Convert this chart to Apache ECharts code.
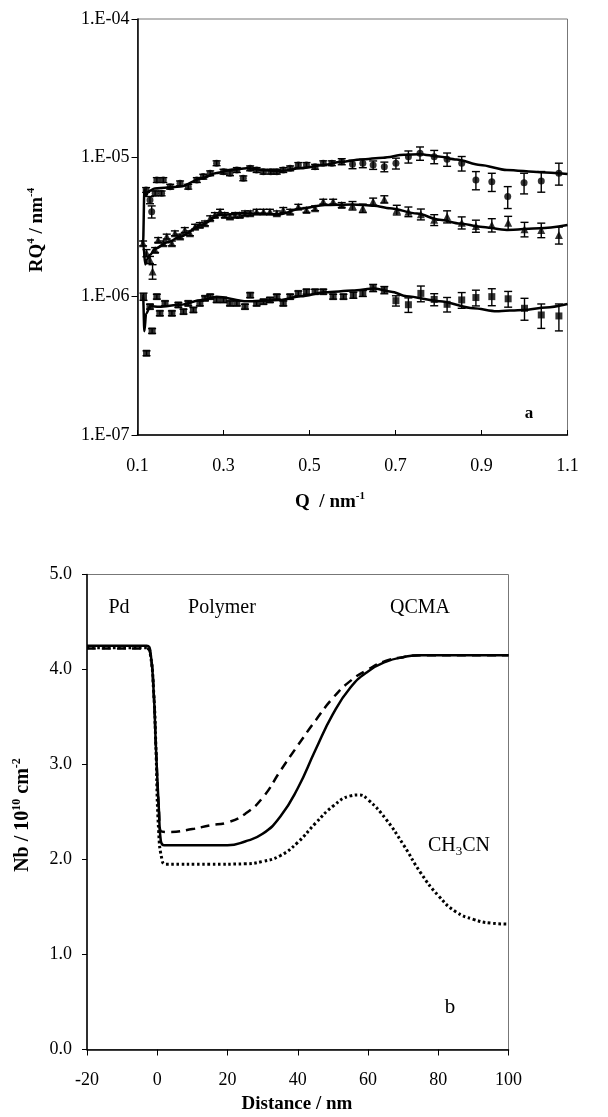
<!DOCTYPE html>
<html>
<head>
<meta charset="utf-8">
<script src="https://cdn.jsdelivr.net/npm/echarts@6/dist/echarts.min.js"></script>
<style>
html,body{margin:0;padding:0;background:#fff;}
#c{width:608px;height:1117px;}
</style>
</head>
<body>
<div id="c"></div>
<script>
// ---------- Panel a : RQ^4 vs Q (values in units of 1e-6) ----------
const circleQ = [0.12,0.129,0.133,0.141,0.145,0.156,0.16,0.176,0.199,0.218,0.238,0.253,0.269,0.284,0.3,0.315,0.331,0.346,0.362,0.377,0.393,0.41,0.424,0.439,0.455,0.474,0.493,0.513,0.532,0.552,0.575,0.60,0.624,0.648,0.674,0.701,0.73,0.757,0.79,0.82,0.854,0.887,0.924,0.961,0.999,1.039,1.08];
const circleV = [5.85,4.95,4.08,5.53,6.9,5.53,6.9,6.18,6.53,6.18,6.9,7.3,7.72,9.12,7.93,7.72,8.15,7.1,8.38,8.15,7.93,7.93,7.93,8.15,8.38,8.86,8.86,8.6,9.12,9.12,9.36,8.95,9.1,8.85,8.6,9.1,10.16,10.76,10.16,9.73,9.1,6.9,6.71,5.24,6.6,6.79,7.73];
const circleErr = [0.04,0.06,0.1,0.04,0.04,0.04,0.04,0.04,0.04,0.04,0.04,0.04,0.04,0.04,0.04,0.04,0.04,0.04,0.04,0.04,0.04,0.04,0.04,0.04,0.04,0.04,0.04,0.04,0.04,0.04,0.05,0.07,0.07,0.07,0.08,0.09,0.1,0.11,0.11,0.11,0.12,0.15,0.15,0.18,0.17,0.17,0.18];

const triQ = [0.113,0.121,0.129,0.135,0.141,0.148,0.16,0.168,0.18,0.187,0.199,0.21,0.222,0.234,0.245,0.257,0.269,0.28,0.292,0.303,0.315,0.327,0.338,0.35,0.362,0.377,0.393,0.408,0.424,0.439,0.455,0.474,0.493,0.513,0.532,0.555,0.575,0.60,0.624,0.648,0.674,0.703,0.73,0.759,0.79,0.82,0.854,0.887,0.924,0.962,1.0,1.039,1.08];
const triV = [2.41,2.05,1.83,1.51,2.16,2.55,2.41,2.7,2.41,2.85,2.7,3.01,2.85,3.18,3.27,3.36,3.66,3.86,4.08,3.86,3.76,3.86,3.86,3.97,3.97,4.08,4.08,4.08,3.97,4.2,4.08,4.43,4.2,4.32,4.82,4.82,4.56,4.51,4.32,4.82,5.01,4.2,4.08,3.91,3.56,3.76,3.4,3.22,3.27,3.4,3.05,3.01,2.77];
const triErr = [0.04,0.06,0.06,0.12,0.04,0.04,0.04,0.04,0.04,0.04,0.04,0.04,0.04,0.04,0.04,0.04,0.04,0.04,0.04,0.04,0.04,0.04,0.04,0.04,0.04,0.04,0.04,0.04,0.04,0.04,0.04,0.04,0.04,0.04,0.04,0.04,0.04,0.07,0.07,0.06,0.06,0.08,0.08,0.09,0.09,0.1,0.1,0.1,0.11,0.11,0.12,0.12,0.14];

const sqQ = [0.114,0.121,0.129,0.134,0.145,0.152,0.164,0.18,0.195,0.207,0.218,0.23,0.245,0.257,0.269,0.284,0.3,0.315,0.331,0.35,0.362,0.377,0.393,0.408,0.424,0.439,0.455,0.474,0.493,0.513,0.532,0.555,0.579,0.602,0.624,0.648,0.674,0.701,0.73,0.759,0.79,0.82,0.854,0.887,0.924,0.962,1.0,1.039,1.08];
const sqV = [0.995,0.389,0.843,0.563,0.995,0.755,0.89,0.755,0.867,0.776,0.89,0.798,0.89,0.968,0.995,0.942,0.942,0.89,0.89,0.843,1.02,0.89,0.915,0.942,0.995,0.89,0.995,1.05,1.08,1.08,1.08,0.995,0.995,1.02,1.05,1.15,1.11,0.93,0.87,1.05,0.95,0.876,0.942,0.98,0.995,0.96,0.82,0.734,0.722];
const sqErr = [0.06,0.04,0.04,0.04,0.04,0.04,0.04,0.04,0.04,0.04,0.04,0.04,0.04,0.04,0.04,0.04,0.04,0.04,0.04,0.04,0.04,0.04,0.04,0.04,0.04,0.04,0.04,0.04,0.04,0.04,0.04,0.04,0.04,0.05,0.05,0.06,0.06,0.085,0.12,0.13,0.1,0.12,0.13,0.13,0.14,0.13,0.18,0.2,0.22];

const fitTopQ = [0.111,0.113,0.116,0.12,0.125,0.14,0.17,0.2,0.25,0.284,0.32,0.354,0.4,0.43,0.48,0.536,0.571,0.62,0.671,0.72,0.757,0.8,0.842,0.897,0.959,1.036,1.1];
const fitTopV = [2.4,2.4,5.9,5.3,5.7,6.0,6.1,6.2,7.1,7.75,8.2,8.4,8.1,8.0,8.4,8.9,9.3,9.7,10.0,10.5,10.6,10.2,9.7,8.86,8.15,7.85,7.63];
const fitMidQ = [0.111,0.114,0.118,0.122,0.13,0.14,0.17,0.2,0.25,0.292,0.346,0.39,0.431,0.48,0.536,0.6,0.65,0.687,0.75,0.803,0.85,0.897,0.959,1.036,1.1];
const fitMidV = [2.55,2.3,1.7,1.85,2.0,2.2,2.45,2.7,3.3,3.86,3.97,3.95,3.9,4.3,4.56,4.6,4.5,4.32,3.95,3.56,3.35,3.18,3.01,3.1,3.27];
const fitBotQ = [0.111,0.113,0.116,0.12,0.13,0.15,0.2,0.25,0.284,0.354,0.431,0.48,0.536,0.6,0.652,0.69,0.726,0.803,0.881,0.935,0.997,1.05,1.1];
const fitBotV = [1.0,1.0,0.56,0.75,0.85,0.84,0.87,0.94,0.995,0.92,0.94,1.0,1.07,1.1,1.14,1.08,1.0,0.92,0.82,0.78,0.798,0.83,0.88];

const qTicks = [0.1,0.3,0.5,0.7,0.9,1.1];
const UNIT = 1e-6;

// ---------- Panel b : Nb profiles vs distance ----------
const solidProfile = [[-20,4.25],[-3,4.25],[-2,4.2],[-1,3.75],[-0.4,3.2],[0.5,2.5],[1,2.2],[2,2.15],[10,2.15],[20,2.15],[25,2.19],[30,2.27],[35,2.45],[40,2.75],[45,3.15],[50,3.53],[55,3.81],[60,3.98],[65,4.08],[70,4.13],[75,4.15],[80,4.15],[100,4.15]];
const dashedProfile = [[-20,4.22],[-3,4.22],[-2,4.17],[-1,3.75],[-0.4,3.2],[0.5,2.5],[1,2.3],[3.4,2.29],[10,2.32],[15,2.36],[20,2.39],[25,2.48],[30,2.65],[35,2.93],[40,3.2],[45,3.46],[50,3.7],[55,3.88],[60,4.0],[65,4.09],[70,4.13],[75,4.15],[100,4.15]];
const dottedProfile = [[-20,4.23],[-3,4.23],[-2,4.17],[-1,3.75],[-0.4,3.2],[0.4,2.3],[1.4,1.99],[2.4,1.95],[15,1.95],[25,1.955],[30,1.98],[35,2.04],[40,2.18],[45,2.38],[50,2.56],[55,2.67],[57.5,2.68],[60,2.63],[65,2.43],[70,2.16],[75,1.86],[80,1.62],[85,1.45],[90,1.37],[95,1.33],[100,1.32]];

// ---------- build ----------
const SERIF = '"Liberation Serif","Times New Roman",serif';
function pts(q, v){ return q.map((x,i)=>[x, v[i]*UNIT]); }
function errs(q, v, e){ return q.map((x,i)=>[x, v[i]*UNIT*(1-e[i]), v[i]*UNIT*(1+e[i])]); }

function errorSeries(data){
  return {
    type:'custom', xAxisIndex:0, yAxisIndex:0, data:data, encode:{x:0,y:[1,2]}, clip:true, z:3,
    renderItem:function(params, api){
      const p1 = api.coord([api.value(0), api.value(1)]);
      const p2 = api.coord([api.value(0), api.value(2)]);
      const hw = 4;
      const st = {stroke:'#000', lineWidth:1.4};
      return {type:'group', children:[
        {type:'line', shape:{x1:p1[0],y1:p1[1],x2:p2[0],y2:p2[1]}, style:st},
        {type:'line', shape:{x1:p1[0]-hw,y1:p1[1],x2:p1[0]+hw,y2:p1[1]}, style:st},
        {type:'line', shape:{x1:p2[0]-hw,y1:p2[1],x2:p2[0]+hw,y2:p2[1]}, style:st}
      ]};
    }
  };
}
function markerSeries(data, symbol, size){
  return {type:'scatter', xAxisIndex:0, yAxisIndex:0, data:data, symbol:symbol, symbolSize:size,
    itemStyle:{color:'#000'}, z:4, silent:true};
}
function fitSeries(data){
  return {type:'line', xAxisIndex:0, yAxisIndex:0, data:data, showSymbol:false, symbol:'none',
    smooth:0.3, smoothMonotone:'x', lineStyle:{color:'#000', width:2.5}, z:5, silent:true};
}
function profSeries(data, type, width){
  return {type:'line', xAxisIndex:1, yAxisIndex:1, data:data, showSymbol:false, symbol:'none',
    smooth:0.5, lineStyle:{color:'#000', width:width, type:type, cap:'butt'}, silent:true};
}

const labelFont = {fontFamily:SERIF, fontSize:18, color:'#000'};

const option = {
  animation:false,
  backgroundColor:'#fff',
  grid:[
    {left:137.5, top:19, width:430, height:416, show:true, borderColor:'#777', borderWidth:1},
    {left:87, top:574.5, width:421.5, height:475, show:true, borderColor:'#777', borderWidth:1}
  ],
  xAxis:[
    {gridIndex:0, type:'value', min:0.1, max:1.1,
     axisLine:{show:true, onZero:false, lineStyle:{color:'#000', width:1.5}},
     axisTick:{show:true, inside:true, length:5, customValues:qTicks, lineStyle:{color:'#000'}},
     axisLabel:Object.assign({customValues:qTicks, margin:22, formatter:v=>v.toFixed(1)}, labelFont),
     splitLine:{show:false}},
    {gridIndex:1, type:'value', min:-20, max:100, interval:20,
     axisLine:{show:true, onZero:false, lineStyle:{color:'#000', width:1.5}},
     axisTick:{show:true, length:6, lineStyle:{color:'#000'}},
     axisLabel:Object.assign({margin:22}, labelFont),
     splitLine:{show:false}}
  ],
  yAxis:[
    {gridIndex:0, type:'log', logBase:10, min:1e-7, max:1e-4,
     axisLine:{show:true, onZero:false, lineStyle:{color:'#000', width:1.5}},
     axisTick:{show:true, length:6, lineStyle:{color:'#000'}},
     minorTick:{show:false},
     axisLabel:Object.assign({margin:8, formatter:function(v){
        const e = Math.round(Math.log10(v));
        const a = Math.abs(e);
        return '1.E' + (e<0?'-':'+') + (a<10?'0':'') + a;
     }}, labelFont),
     splitLine:{show:false}},
    {gridIndex:1, type:'value', min:0, max:5, interval:1,
     axisLine:{show:true, onZero:false, lineStyle:{color:'#000', width:1.5}},
     axisTick:{show:true, length:5, lineStyle:{color:'#000'}},
     axisLabel:Object.assign({margin:15, formatter:v=>v.toFixed(1)}, labelFont),
     splitLine:{show:false}}
  ],
  series:[
    errorSeries(errs(circleQ, circleV, circleErr)),
    errorSeries(errs(triQ, triV, triErr)),
    errorSeries(errs(sqQ, sqV, sqErr)),
    markerSeries(pts(circleQ, circleV), 'circle', 7),
    markerSeries(pts(triQ, triV), 'triangle', 8),
    markerSeries(pts(sqQ, sqV), 'rect', 7),
    fitSeries(pts(fitTopQ, fitTopV)),
    fitSeries(pts(fitMidQ, fitMidV)),
    fitSeries(pts(fitBotQ, fitBotV)),
    profSeries(dottedProfile, [2.6,2.6], 3),
    profSeries(dashedProfile, [9,6], 2.5),
    profSeries(solidProfile, 'solid', 2.5)
  ],
  graphic:[
    {type:'text', x:37, y:230, rotation:Math.PI/2, style:{
      text:'{b|RQ}{s|4}{b| / nm}{s|-4}', align:'center', verticalAlign:'middle', fill:'#000',
      rich:{b:{fontFamily:SERIF, fontSize:19, fontWeight:'bold', lineHeight:22},
            s:{fontFamily:SERIF, fontSize:11, fontWeight:'bold', verticalAlign:'top', lineHeight:22}}}},
    {type:'text', x:330, y:502, style:{
      text:'{b|Q  / nm}{s|-1}', align:'center', verticalAlign:'middle', fill:'#000',
      rich:{b:{fontFamily:SERIF, fontSize:19, fontWeight:'bold', lineHeight:22},
            s:{fontFamily:SERIF, fontSize:11, fontWeight:'bold', verticalAlign:'top', lineHeight:22}}}},
    {type:'text', x:529, y:414, style:{text:'a', font:'bold 17px '+SERIF, fill:'#000', align:'center', verticalAlign:'middle'}},
    {type:'text', x:23, y:815, rotation:Math.PI/2, style:{
      text:'{b|Nb / 10}{s|10}{b| cm}{s|-2}', align:'center', verticalAlign:'middle', fill:'#000',
      rich:{b:{fontFamily:SERIF, fontSize:20, fontWeight:'bold', lineHeight:24},
            s:{fontFamily:SERIF, fontSize:12, fontWeight:'bold', verticalAlign:'top', lineHeight:24}}}},
    {type:'text', x:297, y:1104, style:{text:'Distance / nm', font:'bold 19px '+SERIF, fill:'#000', align:'center', verticalAlign:'middle'}},
    {type:'text', x:119, y:608, style:{text:'Pd', font:'20px '+SERIF, fill:'#000', align:'center', verticalAlign:'middle'}},
    {type:'text', x:222, y:608, style:{text:'Polymer', font:'20px '+SERIF, fill:'#000', align:'center', verticalAlign:'middle'}},
    {type:'text', x:420, y:608, style:{text:'QCMA', font:'20px '+SERIF, fill:'#000', align:'center', verticalAlign:'middle'}},
    {type:'text', x:459, y:846, style:{
      text:'{n|CH}{d|3}{n|CN}', align:'center', verticalAlign:'middle', fill:'#000',
      rich:{n:{fontFamily:SERIF, fontSize:20, lineHeight:24},
            d:{fontFamily:SERIF, fontSize:13, verticalAlign:'bottom', lineHeight:24}}}},
    {type:'text', x:450, y:1007, style:{text:'b', font:'21px '+SERIF, fill:'#000', align:'center', verticalAlign:'middle'}}
  ]
};

const chart = echarts.init(document.getElementById('c'), null, {renderer:'canvas'});
chart.setOption(option);
</script>
</body>
</html>
